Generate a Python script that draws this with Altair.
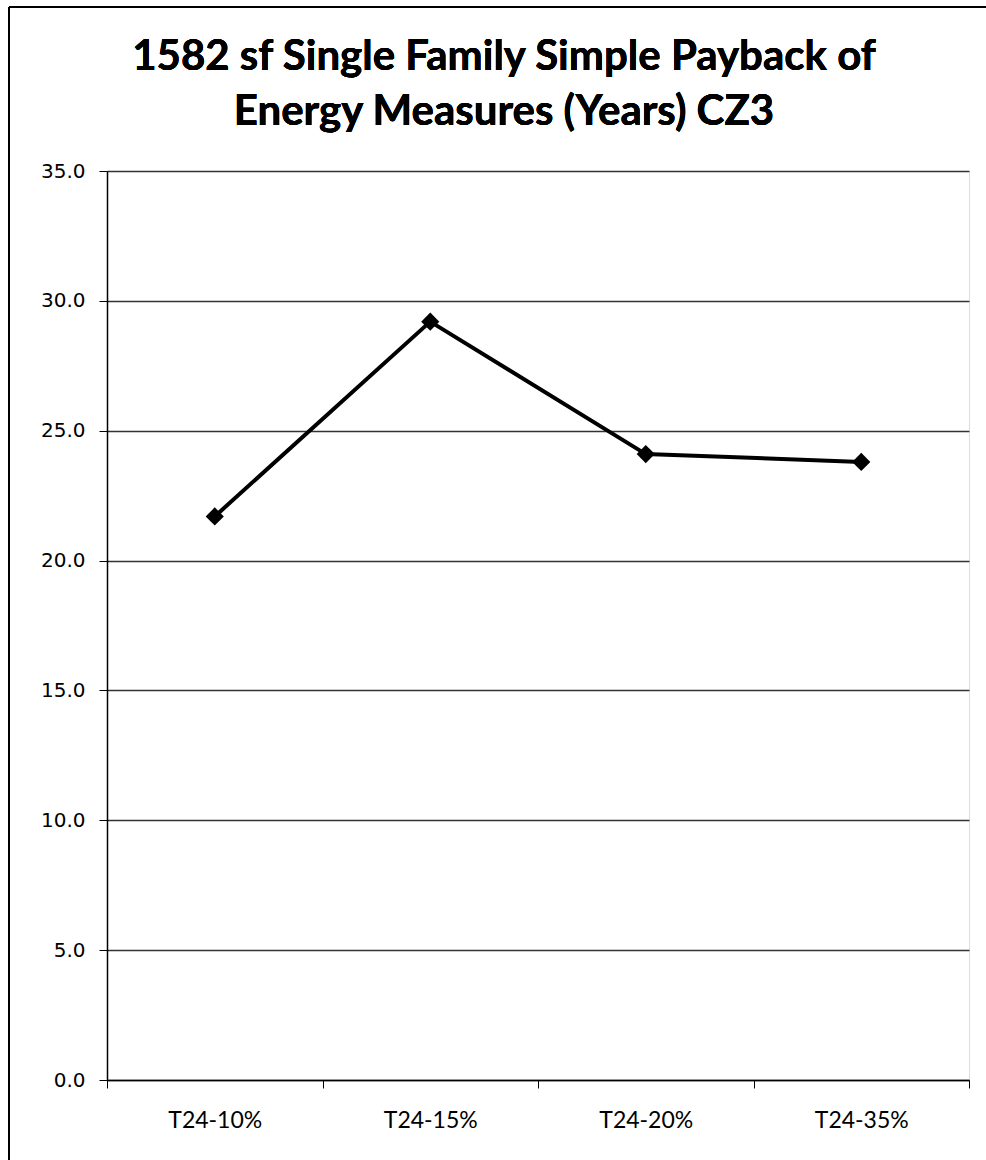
import altair as alt
import pandas as pd

# Simple payback (years) for each Title 24 efficiency level
measures = ["T24-10%", "T24-15%", "T24-20%", "T24-35%"]
payback_years = [21.7, 29.2, 24.1, 23.8]

title_lines = [
    "1582 sf Single Family Simple Payback of",
    "Energy Measures (Years) CZ3",
]
y_ticks = [0, 5, 10, 15, 20, 25, 30, 35]

df = pd.DataFrame({"measure": measures, "payback": payback_years})

PLOT_W = 862
PLOT_H = 909

x_enc = alt.X(
    "measure:N",
    sort=measures,
    scale=alt.Scale(type="band", paddingInner=0, paddingOuter=0),
    axis=alt.Axis(
        title=None,
        labelAngle=0,
        labelFont="Lato",
        labelFontSize=23,
        labelColor="black",
        labelPadding=21,
        tickBand="extent",
        tickSize=8,
        tickColor="black",
        domainColor="black",
        domainWidth=1.5,
        grid=False,
    ),
)

y_enc = alt.Y(
    "payback:Q",
    scale=alt.Scale(domain=[0, 35], nice=False, zero=True),
    axis=alt.Axis(
        title=None,
        values=y_ticks,
        format=".1f",
        labelFont="DejaVu Sans",
        labelFontSize=20,
        labelColor="black",
        labelPadding=14,
        tickSize=8,
        tickColor="black",
        domainColor="black",
        domainWidth=1.5,
        grid=True,
        gridColor="#333333",
        gridWidth=1.3,
    ),
)

line = alt.Chart(df).mark_line(color="black", strokeWidth=4).encode(x=x_enc, y=y_enc)
points = alt.Chart(df).mark_point(
    shape="diamond", filled=True, color="black", size=330, opacity=1
).encode(x=x_enc, y=y_enc)

# Two-line chart heading, centred over the figure
title_font = dict(font="Lato", fontSize=42, fontWeight="bold", color="black",
                  align="center", baseline="alphabetic")
heading_1 = alt.Chart(df).mark_text(**title_font).encode(
    x=alt.value(397), y=alt.value(-101), text=alt.value(title_lines[0])
)
heading_2 = alt.Chart(df).mark_text(**title_font).encode(
    x=alt.value(397), y=alt.value(-46), text=alt.value(title_lines[1])
)

# Frame lines along the top and left edges of the figure
frame_left = alt.Chart(df).mark_rule(color="black", strokeWidth=2).encode(
    x=alt.value(-98), y=alt.value(-164), y2=alt.value(989)
)
frame_top = alt.Chart(df).mark_rule(color="black", strokeWidth=2).encode(
    x=alt.value(-98), x2=alt.value(879), y=alt.value(-164)
)

chart = (
    alt.layer(line, points, heading_1, heading_2, frame_left, frame_top)
    .properties(
        width=PLOT_W,
        height=PLOT_H,
        autosize=alt.AutoSizeParams(type="none"),
        padding={"left": 107, "top": 171, "right": 17, "bottom": 80},
    )
    .configure_view(stroke=None)
    .configure(background="white")
)

chart.save("out.html", embed_options={"renderer": "svg", "actions": False})
